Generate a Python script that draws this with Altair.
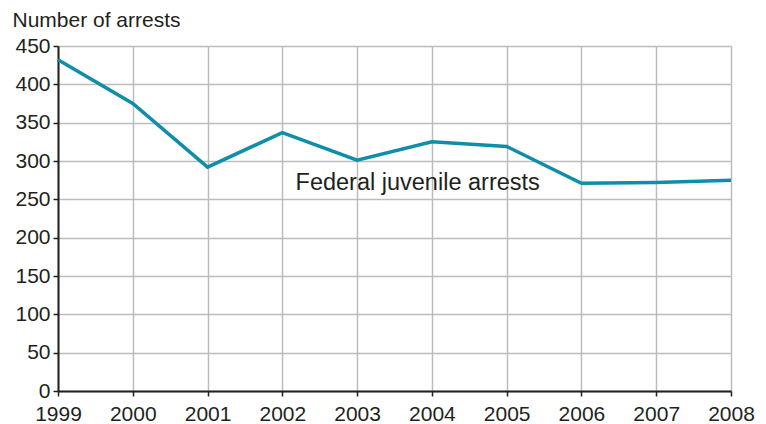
import altair as alt
import pandas as pd

years = [1999, 2000, 2001, 2002, 2003, 2004, 2005, 2006, 2007, 2008]
arrests = [432, 375, 292, 337, 301, 325, 319, 271, 272, 275]
y_ticks = [0, 50, 100, 150, 200, 250, 300, 350, 400, 450]
label_text = ["Federal juvenile arrests"]
label_x = [2003.81]
label_y = [271]

df = pd.DataFrame({"year": years, "arrests": arrests})
lab = pd.DataFrame({"year": label_x, "arrests": label_y, "text": label_text})

FONT = "Liberation Sans"
TXT = "#231f20"

x = alt.X("year:Q", scale=alt.Scale(domain=[1999, 2008], nice=False),
          axis=alt.Axis(values=years, format="d", title=None, labelFontSize=21,
                        labelFont=FONT, labelColor=TXT, labelPadding=7,
                        labelOverlap=False,
                        domainColor=TXT, domainWidth=2, tickColor=TXT, tickWidth=1.5,
                        tickSize=5, gridColor="#bcbcbc", gridWidth=1.5,
                        labelFlush=False))
y = alt.Y("arrests:Q", scale=alt.Scale(domain=[0, 450], nice=False),
          axis=alt.Axis(values=y_ticks, title="Number of arrests",
                        titleAngle=0, titleAlign="left", titleBaseline="alphabetic",
                        titleX=-46, titleY=-20, titleFont=FONT, titleFontSize=21,
                        titleFontWeight="normal", titleColor=TXT,
                        labelFontSize=21, labelFont=FONT, labelColor=TXT, labelPadding=3,
                        labelOverlap=False,
                        domainColor=TXT, domainWidth=2, tickColor=TXT, tickWidth=1.5,
                        tickSize=5, gridColor="#bcbcbc", gridWidth=1.5))

line = alt.Chart(df).mark_line(color="#0e8ea8", strokeWidth=3.5).encode(x=x, y=y)
text = alt.Chart(lab).mark_text(font=FONT, fontSize=23.5, color=TXT, align="center",
                                baseline="middle").encode(x=x, y=y, text="text:N")

chart = (line + text).properties(
    width=673, height=345,
    autosize=alt.AutoSizeParams(type="none"),
    padding={"left": 50, "top": 38, "right": 27, "bottom": 33},
).configure_view(stroke="#bcbcbc", strokeWidth=1.5).configure(background="white")

chart.save("out.html", embed_options={"renderer": "svg", "actions": False})
